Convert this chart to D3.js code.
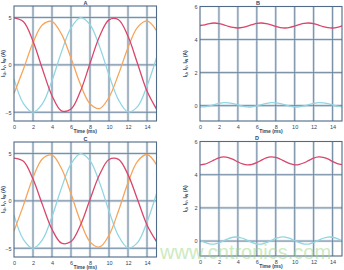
<!DOCTYPE html>
<html>
<head>
<meta charset="utf-8">
<script src="https://cdn.jsdelivr.net/npm/d3@7"></script>
<style>
  body { margin: 0; background: #fff; }
  svg { display: block; font-family: "Liberation Sans", Arial, sans-serif; }
</style>
</head>
<body>
<svg id="chart" width="344" height="270"></svg>
<script>
// time samples (ms)
const tCoarse = [0, 1, 2, 3, 4, 5, 6, 7, 8, 9, 10, 11, 12, 13, 14, 15];
const tFine = [0, 0.5, 1, 1.5, 2, 2.5, 3, 3.5, 4, 4.5, 5, 5.5, 6, 6.5, 7, 7.5,
  8, 8.5, 9, 9.5, 10, 10.5, 11, 11.5, 12, 12.5, 13, 13.5, 14, 14.5, 15];

// panel A: phase currents (A)
const aRed = [4.95, 4.54, 2.50, -0.46, -3.25, -4.85, -4.66, -2.76, 0.15, 2.99, 4.75, 4.76, 3.01, 0.15, -2.76, -4.66];
const aOrange = [-3.02, -0.43, 2.33, 4.22, 4.57, 3.24, 0.71, -2.07, -4.10, -4.61, -3.43, -1.00, 1.81, 3.95, 4.64, 3.62];
const aCyan = [-1.5, -4.09, -5.00, -4.09, -1.66, 1.37, 3.90, 4.99, 4.25, 1.95, -1.07, -3.69, -4.96, -4.40, -2.23, 0.77];

// panel B: magnitude (red) and small component (cyan)
const bRed = [4.85, 4.89, 4.97, 5.00, 4.97, 4.89, 4.80, 4.73, 4.70, 4.73, 4.81, 4.90, 4.98, 5.00, 4.96, 4.89,
  4.79, 4.72, 4.70, 4.74, 4.82, 4.91, 4.98, 5.00, 4.96, 4.88, 4.78, 4.72, 4.70, 4.74, 4.83];
const bCyan = [-0.08, -0.07, -0.02, 0.06, 0.13, 0.18, 0.17, 0.12, 0.04, -0.03, -0.08, -0.07, -0.02, 0.06, 0.13, 0.18,
  0.17, 0.12, 0.04, -0.03, -0.08, -0.07, -0.02, 0.06, 0.13, 0.18, 0.17, 0.12, 0.04, -0.03, -0.08];

// panel C
const cRed = [4.52, 4.18, 2.30, -0.42, -2.99, -4.46, -4.29, -2.54, 0.14, 2.75, 4.37, 4.38, 2.77, 0.14, -2.54, -4.29];
const cOrange = [-3.18, -0.45, 2.45, 4.45, 4.82, 3.41, 0.75, -2.18, -4.32, -4.86, -3.62, -1.05, 1.91, 4.17, 4.89, 3.82];
const cCyan = [-1.5, -4.09, -5.00, -4.09, -1.66, 1.37, 3.90, 4.99, 4.25, 1.95, -1.07, -3.69, -4.96, -4.40, -2.23, 0.77];

// panel D
const dRed = [4.59, 4.63, 4.75, 4.89, 5.02, 5.07, 5.03, 4.92, 4.77, 4.65, 4.59, 4.62, 4.73, 4.88, 5.01, 5.07,
  5.04, 4.93, 4.79, 4.66, 4.59, 4.62, 4.72, 4.86, 5.00, 5.07, 5.05, 4.95, 4.80, 4.67, 4.60];
const dCyan = [0.05, -0.08, -0.17, -0.18, -0.11, 0.01, 0.15, 0.23, 0.24, 0.17, 0.04, -0.09, -0.18, -0.18, -0.10, 0.03,
  0.16, 0.24, 0.24, 0.16, 0.03, -0.10, -0.18, -0.18, -0.09, 0.04, 0.17, 0.24, 0.23, 0.15, 0.01];

const xTicks = [0, 2, 4, 6, 8, 10, 12, 14];
const yTicksAC = [-5, 0, 5];
const yTicksBD = [0, 2, 4, 6];

const RED = '#d9466b', ORANGE = '#f6a55c', CYAN = '#92d5e2';

const panels = [
  { name: 'A', left: 14, right: 156.5, top: 6, bottom: 121, off: 0, yDom: [-5.92, 6.21], yTicks: yTicksAC,
    titleX: 85.5, labelX: 5, t: tCoarse, series: [[aCyan, CYAN], [aOrange, ORANGE], [aRed, RED]] },
  { name: 'B', left: 200, right: 342, top: 6.5, bottom: 121, off: 0, yDom: [-0.93, 6], yTicks: yTicksBD,
    titleX: 258, labelX: 187, t: tFine, series: [[bCyan, CYAN], [bRed, RED]] },
  { name: 'C', left: 14, right: 156.5, top: 142, bottom: 257, off: 136, yDom: [-5.92, 6.21], yTicks: yTicksAC,
    titleX: 85.5, labelX: 5, t: tCoarse, series: [[cCyan, CYAN], [cOrange, ORANGE], [cRed, RED]] },
  { name: 'D', left: 200, right: 342, top: 141.5, bottom: 256, off: 135, yDom: [-0.9, 6], yTicks: yTicksBD,
    titleX: 257, labelX: 187, t: tFine, series: [[dCyan, CYAN], [dRed, RED]] }
];

const svg = d3.select('#chart');
const textCol = '#2c4764';

panels.forEach((p, i) => {
  const x = d3.scaleLinear().domain([0, 15]).range([p.left, p.right]);
  const y = d3.scaleLinear().domain(p.yDom).range([p.bottom, p.top]);
  const g = svg.append('g');

  g.append('clipPath').attr('id', 'clip' + i)
    .append('rect')
    .attr('x', p.left).attr('y', p.top)
    .attr('width', p.right - p.left).attr('height', p.bottom - p.top);

  // grid: light halo + dark core
  const vLines = xTicks.filter(d => d > 0);
  const hLines = p.yTicks.filter(d => y(d) > p.top + 1);
  [['#d5dfe8', 2.6], ['#5f7993', 0.8]].forEach(([col, w]) => {
    g.append('g').selectAll('line').data(vLines).join('line')
      .attr('x1', d => x(d)).attr('x2', d => x(d))
      .attr('y1', p.top).attr('y2', p.bottom)
      .attr('stroke', col).attr('stroke-width', w);
    g.append('g').selectAll('line').data(hLines).join('line')
      .attr('x1', p.left).attr('x2', p.right)
      .attr('y1', d => y(d)).attr('y2', d => y(d))
      .attr('stroke', col).attr('stroke-width', w);
  });

  // curves
  const line = d3.line()
    .x(d => x(d[0]))
    .y(d => y(d[1]))
    .curve(d3.curveCatmullRom);
  p.series.forEach(([vals, col]) => {
    g.append('path')
      .datum(p.t.map((t, k) => [t, vals[k]]))
      .attr('clip-path', `url(#clip${i})`)
      .attr('fill', 'none')
      .attr('stroke', col)
      .attr('stroke-width', 1.3)
      .attr('d', line);
  });

  // frame
  g.append('rect')
    .attr('x', p.left).attr('y', p.top)
    .attr('width', p.right - p.left).attr('height', p.bottom - p.top)
    .attr('fill', 'none').attr('stroke', '#4f6b88').attr('stroke-width', 1.1);

  // axes (labels only, no tick marks)
  const xAxis = g.append('g')
    .attr('transform', `translate(0,${p.bottom})`)
    .call(d3.axisBottom(x).tickValues(xTicks).tickSize(0).tickPadding(4.5));
  const yAxis = g.append('g')
    .attr('transform', `translate(${p.left},0)`)
    .call(d3.axisLeft(y).tickValues(p.yTicks).tickSize(0).tickPadding(2.5).tickFormat(d => d < 0 ? '\u2212' + (-d) : d));
  [xAxis, yAxis].forEach(a => {
    a.select('.domain').remove();
    a.selectAll('text')
      .attr('fill', textCol)
      .style('font-size', '5.5px')
      .style('font-family', '"Liberation Sans", Arial, sans-serif');
  });

  // title
  g.append('text')
    .attr('x', p.titleX).attr('y', p.off + 5)
    .attr('text-anchor', 'middle')
    .attr('font-size', 5.5).attr('font-weight', 'bold')
    .attr('fill', textCol)
    .text(p.name);

  // x label
  g.append('text')
    .attr('x', (p.left + p.right) / 2).attr('y', p.off + 133)
    .attr('text-anchor', 'middle')
    .attr('font-size', 5).attr('font-weight', 'bold')
    .attr('fill', textCol)
    .text('Time (ms)');

  // y label with subscripts
  const yl = g.append('text')
    .attr('transform', `translate(${p.labelX},${(p.top + p.bottom) / 2}) rotate(-90)`)
    .attr('text-anchor', 'middle')
    .attr('font-size', 5).attr('font-weight', 'bold')
    .attr('fill', textCol);
  [['I', 0], ['U', 1], [', I', 0], ['V', 1], [', I', 0], ['W', 1], [' (A)', 0]].forEach(([s, sub]) => {
    yl.append('tspan')
      .attr('dy', sub ? 1.2 : (s === 'I' ? 0 : -1.2))
      .attr('font-size', sub ? 3.8 : 5)
      .text(s);
  });
});

// watermark (overlaps the bottom panels as in the original)
svg.append('text')
  .attr('x', 160).attr('y', 259)
  .attr('font-size', 20)
  .attr('fill', '#9dd682')
  .attr('opacity', 0.5)
  .text('www.cntronics.com');
</script>
</body>
</html>
